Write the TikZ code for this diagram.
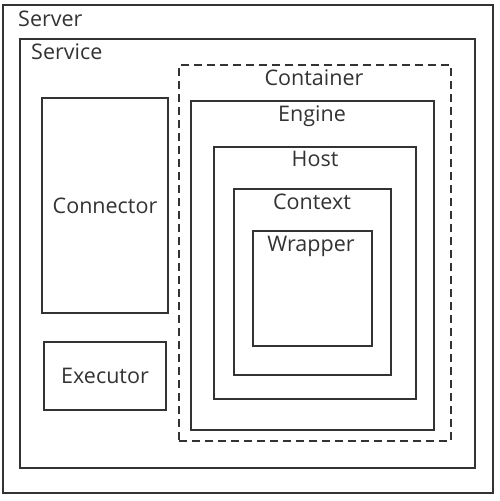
\documentclass[tikz,border=0pt]{standalone}
\usepackage{fontspec}
\setmainfont{Open Sans}
\usetikzlibrary{positioning}
\definecolor{ink}{HTML}{333333}

\begin{document}
\begin{tikzpicture}[x=1pt,y=-1pt,
  box/.style={draw=ink,line width=2pt,rectangle,inner sep=0pt},
  lbl/.style={text=ink,font=\fontsize{21.5}{25}\selectfont,inner sep=0pt}]
  \useasboundingbox[fill=white] (0,0) rectangle (499,501);
  % outer frames
  \node[box,minimum width=490,minimum height=488] (server)  at (248,249) {};
  \node[box,minimum width=455,minimum height=429] (service) at (247.5,253.5) {};
  \node[lbl,anchor=base west] (server_t)  at (18,26) {Server};
  \node[lbl,anchor=base west] (service_t) at (31,59) {Service};
  % left column
  \node[box,minimum width=126,minimum height=215] (connector) at (105,205.5) {};
  \node[box,minimum width=122,minimum height=68]  (executor)  at (105,376) {};
  \node[lbl] at (connector) {Connector};
  \node[lbl] at (executor)  {Executor};
  % container and nested boxes
  \node[box,dashed,dash pattern=on 8pt off 5pt,minimum width=272,minimum height=376] (container) at (315,253) {};
  \node[box,minimum width=243,minimum height=329] (engine)  at (312.5,265.5) {};
  \node[box,minimum width=202,minimum height=252] (host)    at (315,273) {};
  \node[box,minimum width=157,minimum height=186] (context) at (312.5,282) {};
  \node[box,minimum width=119,minimum height=115] (wrapper) at (312.5,288.5) {};
  \node[lbl,anchor=base] (container_t) at (314,85)  {Container};
  \node[lbl,anchor=base] (engine_t)    at (312,121) {Engine};
  \node[lbl,anchor=base] (host_t)      at (315,166) {Host};
  \node[lbl,anchor=base] (context_t)   at (312,209) {Context};
  \node[lbl,anchor=base] (wrapper_t)   at (311,251) {Wrapper};
\end{tikzpicture}
\end{document}
